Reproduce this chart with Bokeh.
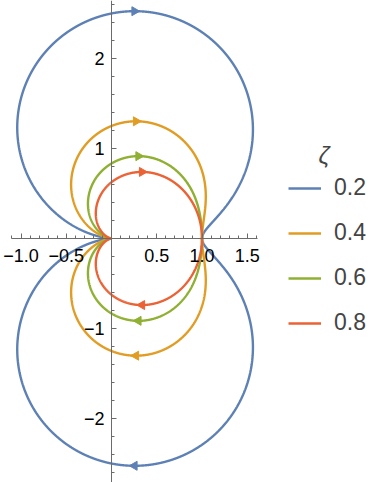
import numpy as np
from bokeh.plotting import figure
from bokeh.models import Range1d, FixedTicker, Legend, LegendItem, Label
from bokeh.embed import file_html
from bokeh.resources import INLINE

# Data: damping ratios of G(s) = 1 / (s^2 + 2*zeta*s + 1)
zetas = [0.2, 0.4, 0.6, 0.8]
zeta_labels = ["0.2", "0.4", "0.6", "0.8"]
colors = ["#5E81B5", "#E19C24", "#8FB032", "#EB6235"]

x_ticks = [-1.0, -0.5, 0.0, 0.5, 1.0, 1.5]
x_tick_labels = ["\u22121.0", "\u22120.5", "", "0.5", "1.0", "1.5"]
y_ticks = [-2, -1, 0, 1, 2]
y_tick_labels = ["\u22122", "\u22121", "", "1", "2"]

p = figure(width=383, height=482, output_backend="svg", toolbar_location=None,
           x_range=Range1d(-1.2265, 3.005), y_range=Range1d(-2.711, 2.644),
           min_border=0, outline_line_color=None)
p.xgrid.visible = False
p.ygrid.visible = False
p.background_fill_color = "white"
p.border_fill_color = "white"

# frequency grid (positive frequencies, dense near resonance)
w = np.unique(np.concatenate([np.logspace(-3, 3, 3000), np.linspace(0.8, 1.2, 2000)]))

items = []
for z, lab, c in zip(zetas, zeta_labels, colors):
    G = 1.0 / ((1j * w) ** 2 + 2 * z * (1j * w) + 1)
    # upper branch: negative frequencies (conjugate), traversed from -inf to 0
    upper_x = G.real[::-1]
    upper_y = -G.imag[::-1]
    # lower branch: positive frequencies, 0 to +inf
    lower_x = G.real
    lower_y = G.imag
    cx = np.concatenate([upper_x, lower_x])
    cy = np.concatenate([upper_y, lower_y])
    r = p.line(cx, cy, line_color=c, line_width=2.4)
    items.append(LegendItem(label=lab, renderers=[r]))
    # direction arrows at the extreme imaginary points
    i_top = np.argmax(upper_y)
    i_bot = np.argmin(lower_y)
    p.scatter([upper_x[i_top]], [upper_y[i_top]], marker="triangle", size=9,
              angle=-np.pi / 2, fill_color=c, line_color=c)
    p.scatter([lower_x[i_bot]], [lower_y[i_bot]], marker="triangle", size=9,
              angle=np.pi / 2, fill_color=c, line_color=c)

axis_color = "#6b6b6b"
for ax in (p.xaxis[0], p.yaxis[0]):
    ax.fixed_location = 0
    ax.axis_line_color = axis_color
    ax.major_tick_line_color = axis_color
    ax.minor_tick_line_color = axis_color
    ax.major_tick_in = 5
    ax.major_tick_out = 0
    ax.minor_tick_in = 3
    ax.minor_tick_out = 0
    ax.major_label_text_font = "Liberation Sans"
    ax.major_label_text_font_size = "18px"
    ax.major_label_text_color = "black"

p.xaxis[0].ticker = FixedTicker(ticks=x_ticks, minor_ticks=list(np.round(np.arange(-1.1, 1.61, 0.1), 2)))
p.xaxis[0].major_label_overrides = {t: l for t, l in zip(x_ticks, x_tick_labels)}
p.xaxis[0].bounds = (-1.11, 1.61)
p.xaxis[0].major_label_standoff = 11

p.yaxis[0].ticker = FixedTicker(ticks=y_ticks, minor_ticks=list(np.round(np.arange(-2.6, 2.61, 0.2), 2)))
p.yaxis[0].major_label_overrides = {t: l for t, l in zip(y_ticks, y_tick_labels)}
p.yaxis[0].bounds = (-2.711, 2.644)
p.yaxis[0].major_label_standoff = 7

legend = Legend(items=items, location=(288, 146), border_line_color=None,
                background_fill_alpha=0, padding=0, margin=0,
                glyph_width=33, glyph_height=20, label_height=20, label_standoff=13,
                spacing=18, label_text_font="Liberation Sans", label_text_font_size="23px")
p.add_layout(legend)

p.add_layout(Label(x=318, y=482 - 155, x_units="screen", y_units="screen", text="\u03b6",
                   text_font="Liberation Sans", text_font_style="italic", text_font_size="24px",
                   text_baseline="middle"))

open("out.html", "w").write(file_html(p, INLINE))
